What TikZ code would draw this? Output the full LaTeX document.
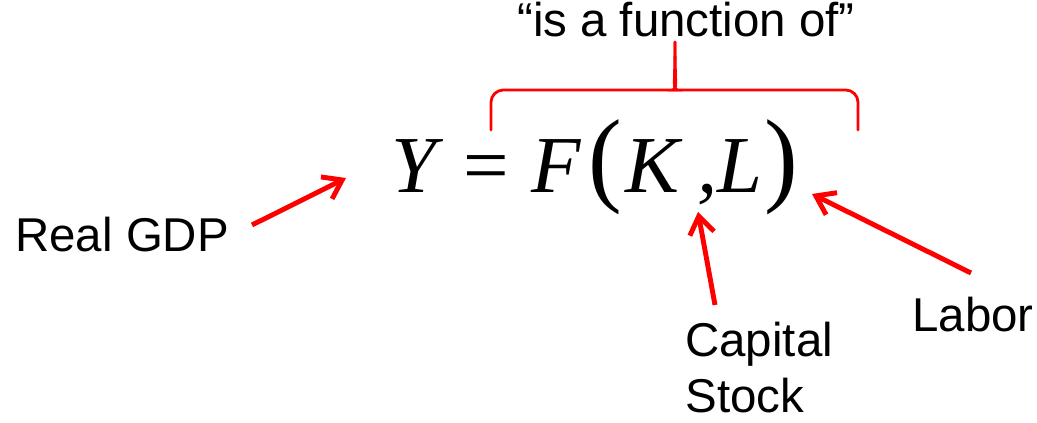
\documentclass[tikz,border=0pt]{standalone}
\usepackage{fontspec}
\setmainfont{Liberation Serif}
\newfontfamily\labelfont{Liberation Sans}
\usepackage{graphicx}
\usetikzlibrary{arrows.meta}
\definecolor{pptred}{RGB}{255,0,0}
\newcommand{\bigparen}[1]{\scalebox{1.25}[1.3]{#1}}

\begin{document}
\begin{tikzpicture}[
    lbl/.style={font=\labelfont\fontsize{27}{31}\selectfont, inner sep=0pt},
    eqn/.style={font=\fontsize{46}{50}\selectfont, inner sep=0pt},
    pointer/.style={draw=pptred, line width=2.8pt, -{Straight Barb[length=10pt, width=14pt, line width=2.8pt]}},
    brace/.style={draw=pptred, line width=1.6pt, line cap=round},
  ]
  \useasboundingbox (0,0) rectangle (20.74,8.46);

  \node[eqn, anchor=base west] (eq) at (7.82,4.6)
    {\itshape Y\hspace{0.34em}\upshape=\hspace{0.27em}\itshape F\hspace{0.1em}\upshape\bigparen{(}\hspace{0.04em}\itshape K\hspace{0.22em},L\hspace{0.03em}\upshape\bigparen{)}};

  \node[lbl, anchor=base] (func) at (13.72,7.72) {“is a function of”};
  \node[lbl, anchor=base west] (gdp) at (0.3,3.42) {Real GDP};
  \node[lbl, anchor=base west, align=left, text depth=0pt] (cap) at (13.7,0.2) {Capital\\[1pt]Stock};
  \node[lbl, anchor=base west] (lab) at (18.24,1.82) {Labor};

  \coordinate (gdp-tail) at (5.04,3.96);
  \coordinate (gdp-tip) at (6.92,4.9);
  \coordinate (cap-tail) at (14.3,2.36);
  \coordinate (cap-tip) at (13.96,4.22);
  \coordinate (lab-tail) at (19.42,3.0);
  \coordinate (lab-tip) at (16.24,4.58);

  \draw[pointer] (gdp-tail) -- (gdp-tip);
  \draw[pointer] (cap-tail) -- (cap-tip);
  \draw[pointer] (lab-tail) -- (lab-tip);

  \coordinate (br-left) at (9.82,5.86);
  \coordinate (br-mid) at (13.5,7.62);
  \coordinate (br-right) at (17.16,5.86);

  \draw[brace, rounded corners=7pt] (br-left) -- (9.82,6.66) -- (13.3,6.66)
    .. controls (13.45,6.66) and (13.5,6.75) .. (br-mid);
  \draw[brace, rounded corners=7pt] (br-right) -- (17.16,6.66) -- (13.7,6.66)
    .. controls (13.55,6.66) and (13.5,6.75) .. (br-mid);
\end{tikzpicture}
\end{document}
